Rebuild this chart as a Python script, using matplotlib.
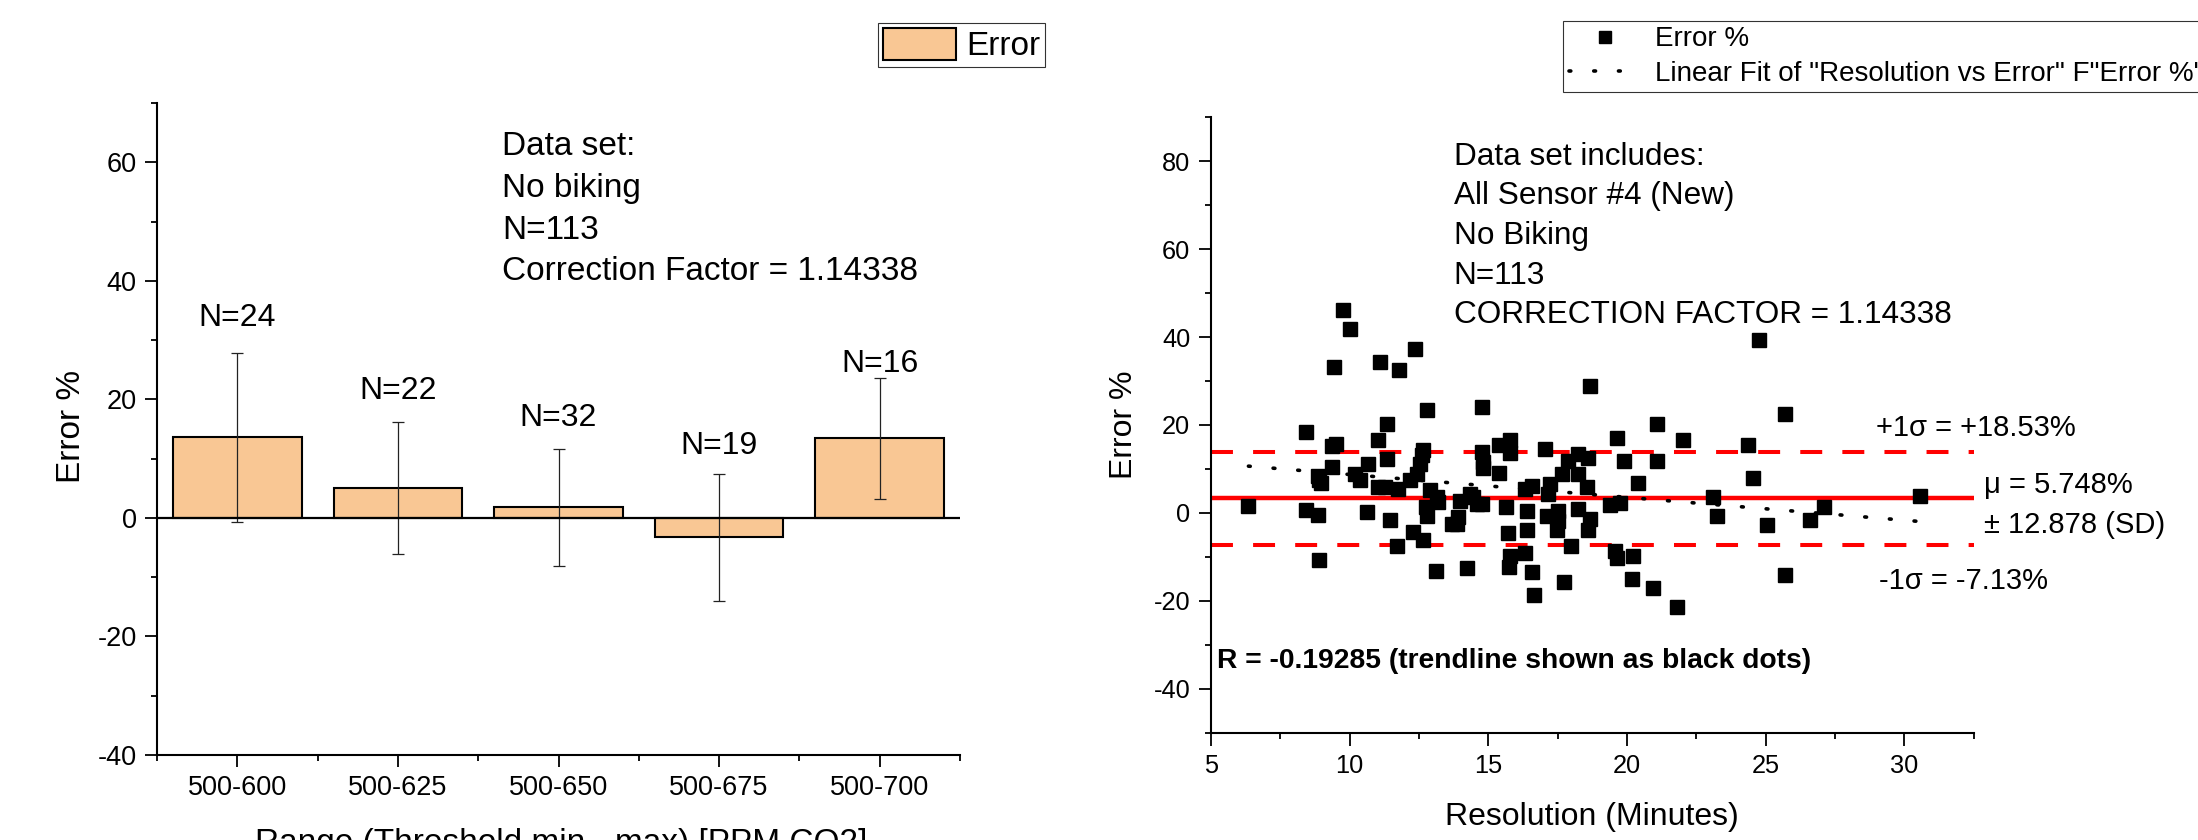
import matplotlib
matplotlib.use("Agg")
import matplotlib.pyplot as plt
import numpy as np
from matplotlib.ticker import MultipleLocator, FixedLocator
from matplotlib.lines import Line2D
from matplotlib.patches import Patch

plt.rcParams['font.family'] = ['Liberation Sans', 'DejaVu Sans']
plt.rcParams['axes.unicode_minus'] = False

# ---------------- data: left bar chart ----------------
categories = ["500-600", "500-625", "500-650", "500-675", "500-700"]
bar_error = [13.6, 5.0, 1.8, -3.3, 13.4]
bar_sd = [14.3, 11.1, 9.9, 10.7, 10.2]
n_labels = ["N=24", "N=22", "N=32", "N=19", "N=16"]
n_label_y = [34.3, 22.0, 17.4, 12.8, 26.6]
left_text = ["Data set:", "No biking", "N=113", "Correction Factor = 1.14338"]

# ---------------- data: right scatter chart ----------------
res_minutes = [
    9.76, 10.01, 9.44, 11.11, 11.77, 12.37, 24.77, 18.67, 12.78, 14.79, 25.71, 8.43,
    11.36, 21.08, 11.02, 19.65, 22.02, 9.35, 9.5, 15.4, 15.79, 24.35, 17.06,
    12.64, 12.6, 14.79, 15.79, 18.25, 18.58, 17.89, 19.91, 21.08, 11.34, 10.67, 12.54,
    9.35, 14.8, 14.8,
    8.87, 8.9, 8.95, 10.19, 10.38, 12.18, 12.42, 11.04, 11.28, 11.76, 12.9, 15.4,
    16.33, 16.57, 17.23, 17.65, 18.25, 18.55, 20.41, 24.53,
    6.35, 8.43, 10.62, 12.76, 13.14, 13.2, 13.98, 14.34, 14.46, 14.59, 14.77, 15.64,
    16.39, 17.17, 18.25, 19.39, 19.75, 23.12, 27.09, 30.55, 17.53,
    17.11, 8.85, 12.78, 11.46, 13.68, 13.92, 13.86, 12.28, 12.64, 11.7, 8.91, 13.12,
    14.22, 15.7, 16.39, 17.53, 17.47, 18.67, 18.58, 17.98, 19.57, 19.64, 20.23, 15.79,
    15.73, 16.33, 16.57, 16.65, 17.73, 20.18, 20.93, 21.82, 23.24, 25.05, 26.61, 25.71,
]
err_pct = [
    46.2, 41.8, 33.1, 34.4, 32.5, 37.2, 39.3, 28.8, 23.5, 24.0, 22.4, 18.4,
    20.2, 20.2, 16.5, 17.0, 16.7, 15.2, 15.6, 15.4, 16.7, 15.4, 14.5,
    14.2, 13.1, 13.8, 13.6, 13.5, 12.5, 11.7, 11.7, 11.8, 12.3, 11.2, 11.2,
    10.4, 11.6, 10.2,
    8.5, 7.6, 6.7, 8.9, 7.4, 7.4, 8.9, 5.9, 5.9, 5.5, 5.1, 9.1,
    5.5, 6.2, 6.6, 8.9, 8.9, 5.9, 6.8, 7.9,
    1.5, 0.7, 0.3, 1.3, 3.6, 2.4, 2.8, 4.3, 3.6, 2.1, 2.1, 1.3,
    0.5, 4.3, 0.9, 1.7, 2.3, 3.6, 1.4, 3.8, 0.5,
    -0.6, -0.5, -0.6, -1.7, -2.5, -1.0, -2.6, -4.3, -6.1, -7.6, -10.6, -13.2,
    -12.6, -4.6, -3.9, -1.8, -4.0, -1.4, -4.0, -7.5, -8.7, -10.3, -9.7, -9.7,
    -12.2, -9.2, -13.5, -18.6, -15.7, -15.1, -17.0, -21.4, -0.7, -2.7, -1.6, -14.1,
]
mean_line = 3.35
plus_sigma_line = 13.85
minus_sigma_line = -7.23
fit_slope = -0.52
fit_intercept = 13.94
right_text = ["Data set includes:", "All Sensor #4 (New)", "No Biking", "N=113",
              "CORRECTION FACTOR = 1.14338"]

# ---------------- figure ----------------
W, H = 2198, 840
fig = plt.figure(figsize=(W / 100, H / 100), dpi=100)


def rect(x0, y0, x1, y1):
    return [x0 / W, 1 - y1 / H, (x1 - x0) / W, (y1 - y0) / H]


def fx(x):
    return x / W


def fy(y):
    return 1 - y / H


DOTS = (0, (0.5, 6.35))

# ---------------- left chart ----------------
ax1 = fig.add_axes(rect(157, 103, 960, 755))
xpos = np.arange(len(categories))
ax1.bar(xpos, bar_error, width=0.8, color='#F9C794', edgecolor='black',
        linewidth=1.5, zorder=2)
ax1.errorbar(xpos, bar_error, yerr=bar_sd, fmt='none', ecolor='#222222',
             elinewidth=0.9, capsize=4, capthick=0.9, zorder=3)
ax1.axhline(0, color='black', lw=1.6, zorder=4)
ax1.set_xlim(-0.5, 4.5)
ax1.set_ylim(-40, 70)
ax1.set_xticks(xpos)
ax1.set_xticklabels(categories)
ax1.xaxis.set_minor_locator(FixedLocator(np.arange(-0.5, 4.6, 1.0)))
ax1.yaxis.set_major_locator(FixedLocator([-40, -20, 0, 20, 40, 60]))
ax1.yaxis.set_minor_locator(MultipleLocator(10))
for s in ['top', 'right']:
    ax1.spines[s].set_visible(False)
for s in ['left', 'bottom']:
    ax1.spines[s].set_linewidth(1.5)
ax1.tick_params(which='major', direction='out', length=8.5, width=1.3,
                labelsize=19.5, pad=6)
ax1.tick_params(which='minor', direction='out', length=4.5, width=1.3)
for i, (lab, yy) in enumerate(zip(n_labels, n_label_y)):
    ax1.text(xpos[i], yy, lab, ha='center', va='center_baseline', fontsize=23)

for i, line in enumerate(left_text):
    fig.text(fx(502), fy(143.3 + i * 41.7), line, fontsize=24,
             ha='left', va='center_baseline')

fig.text(fx(71), fy(426), "Error %", rotation=90, fontsize=24,
         ha='center', va='center')
fig.text(fx(561), fy(840), "Range (Threshold min - max) [PPM CO2]", fontsize=24,
         ha='center', va='center_baseline')

leg1 = fig.legend(handles=[Patch(facecolor='#F9C794', edgecolor='black', lw=1.5,
                                 label='Error')],
                  loc='upper left', bbox_to_anchor=(fx(878), fy(23)),
                  borderaxespad=0, fontsize=24, frameon=True, fancybox=False,
                  handlelength=2.2, handleheight=1.1, handletextpad=0.3,
                  borderpad=0.15)
leg1.get_frame().set_edgecolor('black')
leg1.get_frame().set_linewidth(0.8)

# ---------------- right chart ----------------
ax2 = fig.add_axes(rect(1211, 117.3, 1973.6, 732.7))
ax2.set_xlim(5, 32.5)
ax2.set_ylim(-50, 90)
ax2.axhline(mean_line, color='#FF0000', lw=3.2, zorder=2)
ax2.axhline(plus_sigma_line, color='#FF0000', lw=2.9, zorder=2,
            linestyle=(0, (5.45, 5.0)))
ax2.axhline(minus_sigma_line, color='#FF0000', lw=2.9, zorder=2,
            linestyle=(0, (5.45, 5.0)))
ax2.plot(res_minutes, err_pct, linestyle='none', marker='s', markersize=9.5,
         color='black', zorder=3)
xf = np.array([min(res_minutes), max(res_minutes)])
ax2.plot(xf, fit_intercept + fit_slope * xf, color='black', lw=2.6,
         linestyle=DOTS, dash_capstyle='round', zorder=4)

ax2.xaxis.set_major_locator(FixedLocator([5, 10, 15, 20, 25, 30]))
ax2.xaxis.set_minor_locator(MultipleLocator(2.5))
ax2.yaxis.set_major_locator(FixedLocator([-40, -20, 0, 20, 40, 60, 80]))
ax2.yaxis.set_minor_locator(MultipleLocator(10))
for s in ['top', 'right']:
    ax2.spines[s].set_visible(False)
for s in ['left', 'bottom']:
    ax2.spines[s].set_linewidth(1.5)
ax2.tick_params(which='major', direction='out', length=9, width=1.3,
                labelsize=18.3, pad=6)
ax2.tick_params(which='minor', direction='out', length=4.5, width=1.3)

for i, line in enumerate(right_text):
    fig.text(fx(1453.5), fy(153.3 + i * 39.6), line, fontsize=22.7,
             ha='left', va='center_baseline')

fig.text(fx(1217), fy(658), "R = -0.19285 (trendline shown as black dots)",
         fontsize=20.3, fontweight='bold', ha='left', va='center_baseline')
fig.text(fx(1876), fy(425), "+1σ = +18.53%", fontsize=21, ha='left',
         va='center_baseline')
fig.text(fx(1984), fy(482), "μ = 5.748%", fontsize=21, ha='left',
         va='center_baseline')
fig.text(fx(1984), fy(522), "± 12.878 (SD)", fontsize=21, ha='left',
         va='center_baseline')
fig.text(fx(1879), fy(578), "-1σ = -7.13%", fontsize=21, ha='left',
         va='center_baseline')

fig.text(fx(1124), fy(425), "Error %", rotation=90, fontsize=23,
         ha='center', va='center')
fig.text(fx(1592), fy(813), "Resolution (Minutes)", fontsize=23,
         ha='center', va='center_baseline')

h_pts = Line2D([], [], linestyle='none', marker='s', markersize=9,
               color='black', label='Error %')
h_fit = Line2D([], [], color='black', lw=2.6, linestyle=DOTS,
               dash_capstyle='round',
               label='Linear Fit of "Resolution vs Error" F"Error %"')
leg2 = fig.legend(handles=[h_pts, h_fit], loc='upper left',
                  bbox_to_anchor=(fx(1563), fy(20.7)), borderaxespad=0,
                  fontsize=20, frameon=True, fancybox=False,
                  handlelength=2.6, handletextpad=0.5, borderpad=0.2,
                  labelspacing=0.3)
leg2.get_frame().set_edgecolor('black')
leg2.get_frame().set_linewidth(0.8)

fig.savefig("out.png", dpi=100)
